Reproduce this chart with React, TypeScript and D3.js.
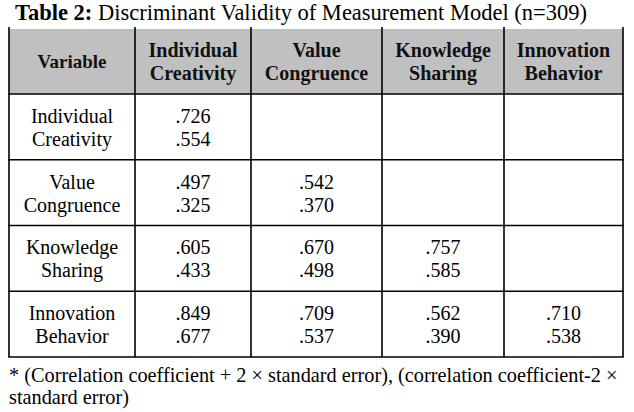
import React from "react";
import * as d3 from "d3";

const titleBold = "Table 2:";
const titleRest = " Discriminant Validity of Measurement Model (n=309)";
const headerFirst = ["Variable"];
const columnHeaders: string[][] = [
  ["Individual", "Creativity"],
  ["Value", "Congruence"],
  ["Knowledge", "Sharing"],
  ["Innovation", "Behavior"],
];
const rowLabels: string[][] = [
  ["Individual", "Creativity"],
  ["Value", "Congruence"],
  ["Knowledge", "Sharing"],
  ["Innovation", "Behavior"],
];
// upper bound (corr + 2 SE), null where empty
const upperValues: (string | null)[][] = [
  [".726", null, null, null],
  [".497", ".542", null, null],
  [".605", ".670", ".757", null],
  [".849", ".709", ".562", ".710"],
];
const lowerValues: (string | null)[][] = [
  [".554", null, null, null],
  [".325", ".370", null, null],
  [".433", ".498", ".585", null],
  [".677", ".537", ".390", ".538"],
];
const footLines = [
  "* (Correlation coefficient + 2 \u00d7 standard error), (correlation coefficient-2 \u00d7",
  "standard error)",
];

// layout
const W = 634;
const H = 412;
const colEdges = [9, 135, 251, 382, 504, 623];
const headerTop = 28;
const headerBottom = 94;
const tableBottom = 357;
const font = "'Liberation Serif', 'Times New Roman', serif";

export default function App() {
  const rowScale = d3
    .scaleBand<number>()
    .domain(d3.range(rowLabels.length))
    .range([headerBottom, tableBottom]);
  const colCenter = (i: number) => (colEdges[i] + colEdges[i + 1]) / 2;
  const headerMid = (headerTop + headerBottom) / 2;
  const lw = 1.6;

  return (
    <svg
      width={W}
      height={H}
      style={{ position: "absolute", left: 0, top: 0, background: "#fff" }}
      fontFamily={font}
    >
      <rect x={0} y={0} width={W} height={H} fill="#fff" />
      <text x={15} y={20} fontSize={22.5} fill="#000">
        <tspan fontWeight="bold">{titleBold}</tspan>
        <tspan>{titleRest}</tspan>
      </text>

      {/* header background */}
      <rect
        x={colEdges[0]}
        y={headerTop + 1}
        width={colEdges[colEdges.length - 1] - colEdges[0]}
        height={headerBottom - headerTop - 1}
        fill="#c0c0c0"
      />

      {/* header text */}
      <text
        x={colCenter(0)}
        y={headerMid + 6.5}
        fontSize={19}
        fontWeight="bold"
        textAnchor="middle"
        fill="#111"
      >
        {headerFirst[0]}
      </text>
      {columnHeaders.map((lines, ci) => (
        <text
          key={"h" + ci}
          x={colCenter(ci + 1)}
          fontSize={20}
          fontWeight="bold"
          textAnchor="middle"
          fill="#111"
        >
          {lines.map((l, li) => (
            <tspan key={li} x={colCenter(ci + 1)} y={headerMid - 4.5 + li * 23}>
              {l}
            </tspan>
          ))}
        </text>
      ))}

      {/* body */}
      {rowLabels.map((lines, ri) => {
        const mid = (rowScale(ri) as number) + rowScale.bandwidth() / 2;
        return (
          <g key={"r" + ri}>
            <text x={colCenter(0)} fontSize={20} textAnchor="middle" fill="#000">
              {lines.map((l, li) => (
                <tspan key={li} x={colCenter(0)} y={mid - 4 + li * 23}>
                  {l}
                </tspan>
              ))}
            </text>
            {upperValues[ri].map((v, ci) =>
              v === null ? null : (
                <text
                  key={"v" + ci}
                  x={colCenter(ci + 1)}
                  fontSize={20}
                  textAnchor="middle"
                  fill="#000"
                >
                  <tspan x={colCenter(ci + 1)} y={mid - 4}>
                    {v}
                  </tspan>
                  <tspan x={colCenter(ci + 1)} y={mid + 19}>
                    {lowerValues[ri][ci]}
                  </tspan>
                </text>
              )
            )}
          </g>
        );
      })}

      {/* grid lines */}
      {colEdges.map((x, i) => (
        <line
          key={"c" + i}
          x1={x}
          x2={x}
          y1={headerTop - 1}
          y2={tableBottom}
          stroke="#000"
          strokeWidth={lw}
        />
      ))}
      {[headerBottom, ...rowLabels.map((_, i) => (rowScale(i) as number) + rowScale.bandwidth())].map(
        (y, i) => (
          <line
            key={"h" + i}
            x1={colEdges[0] - lw / 2}
            x2={colEdges[colEdges.length - 1] + lw / 2}
            y1={y}
            y2={y}
            stroke="#000"
            strokeWidth={lw}
          />
        )
      )}

      {/* footnote */}
      {footLines.map((l, i) => (
        <text key={"f" + i} x={9} y={382 + i * 22} fontSize={20.3} fill="#000">
          {l}
        </text>
      ))}
    </svg>
  );
}
